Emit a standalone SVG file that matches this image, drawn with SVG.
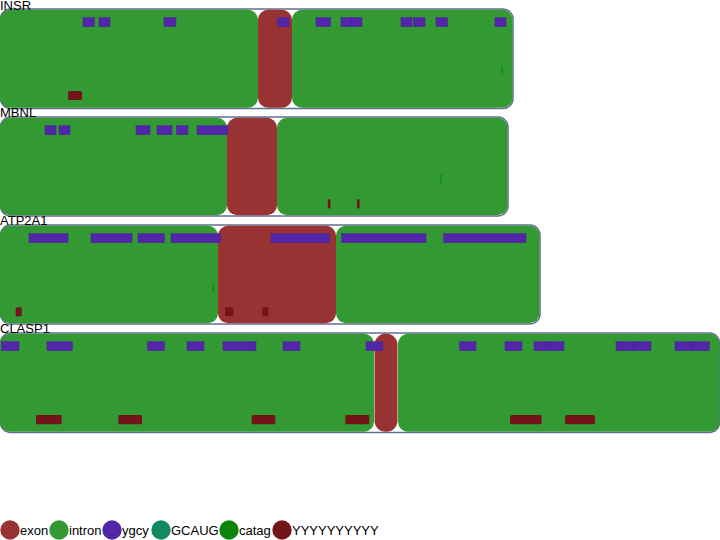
<svg xmlns="http://www.w3.org/2000/svg" width="720" height="540" viewBox="0 0 720 540">
<style>
text{font-family:"Liberation Sans",Arial,sans-serif;font-size:13px;fill:#000}
.outer{fill:#fff;stroke:#5f7090;stroke-width:1.5}
.intron{fill:#339933}
.exon{fill:#993333}
.ygcy{fill:#5226a8;stroke:#4a2299;stroke-width:0.5}
.yyy{fill:#731419}
.catag{fill:#0b840b}
</style>
<g id="INSR">
<rect class="outer" x="0.5" y="9" width="512.5" height="99.5" rx="10"/>
<rect class="intron" x="0" y="9.8" width="258" height="98" rx="10"/>
<rect class="exon" x="258" y="9.8" width="34" height="98" rx="10"/>
<rect class="intron" x="292" y="9.8" width="220.5" height="98" rx="10"/>
<g transform="translate(0,17.7)">
<rect class="ygcy" x="83" y="0" width="11.5" height="9"/>
<rect class="ygcy" x="99" y="0" width="11" height="9"/>
<rect class="ygcy" x="164" y="0" width="12" height="9"/>
<rect class="ygcy" x="277.5" y="0" width="11.5" height="9"/>
<rect class="ygcy" x="316" y="0" width="14.5" height="9"/>
<rect class="ygcy" x="341" y="0" width="11" height="9"/>
<rect class="ygcy" x="351" y="0" width="11" height="9"/>
<rect class="ygcy" x="401" y="0" width="11" height="9"/>
<rect class="ygcy" x="413.5" y="0" width="11.5" height="9"/>
<rect class="ygcy" x="436" y="0" width="11.5" height="9"/>
<rect class="ygcy" x="495" y="0" width="11" height="9"/>
</g>
<rect class="yyy" x="68" y="91" width="14" height="9" rx="1.5"/>
<rect class="catag" x="501.8" y="66.7" width="1" height="8.6"/>
<text x="0" y="10">INSR</text>
</g>
<g id="MBNL">
<rect class="outer" x="0.5" y="117" width="507.5" height="99" rx="10"/>
<rect class="intron" x="0" y="117.8" width="227" height="97.5" rx="10"/>
<rect class="exon" x="227" y="117.8" width="50" height="97.5" rx="10"/>
<rect class="intron" x="277" y="117.8" width="230.5" height="97.5" rx="10"/>
<g transform="translate(0,125.7)">
<rect class="ygcy" x="45" y="0" width="11" height="9"/>
<rect class="ygcy" x="59" y="0" width="11" height="9"/>
<rect class="ygcy" x="136" y="0" width="14" height="9"/>
<rect class="ygcy" x="157" y="0" width="15" height="9"/>
<rect class="ygcy" x="176.5" y="0" width="11.5" height="9"/>
<rect class="ygcy" x="197" y="0" width="31" height="9"/>
</g>
<rect class="yyy" x="327.8" y="199.3" width="2.6" height="9"/>
<rect class="yyy" x="357" y="199.3" width="2.6" height="9"/>
<rect class="catag" x="440.5" y="174.3" width="1" height="10"/>
<text x="0" y="117">MBNL</text>
</g>
<g id="ATP2A1">
<rect class="outer" x="0.5" y="225" width="539.5" height="99" rx="10"/>
<rect class="intron" x="0" y="225.8" width="218" height="97.5" rx="10"/>
<rect class="exon" x="218" y="225.8" width="118" height="97.5" rx="10"/>
<rect class="intron" x="336" y="225.8" width="203.5" height="97.5" rx="10"/>
<g transform="translate(0,233.7)">
<rect class="ygcy" x="29" y="0" width="39" height="9"/>
<rect class="ygcy" x="91" y="0" width="41" height="9"/>
<rect class="ygcy" x="138" y="0" width="26.5" height="9"/>
<rect class="ygcy" x="171" y="0" width="49.5" height="9"/>
<rect class="ygcy" x="271" y="0" width="58.5" height="9"/>
<rect class="ygcy" x="341.5" y="0" width="84.5" height="9"/>
<rect class="ygcy" x="443.5" y="0" width="82.5" height="9"/>
</g>
<rect class="yyy" x="15.7" y="307.3" width="6" height="9"/>
<rect class="yyy" x="225" y="307.3" width="8.3" height="9" rx="1"/>
<rect class="yyy" x="262.3" y="307.3" width="6" height="9"/>
<rect class="catag" x="212.8" y="282.3" width="1" height="10"/>
<text x="0" y="225">ATP2A1</text>
</g>
<g id="CLASP1">
<rect class="outer" x="0.5" y="333" width="719" height="99.5" rx="10"/>
<rect class="intron" x="0" y="333.8" width="374" height="98" rx="10"/>
<rect class="exon" x="374.5" y="333.8" width="23" height="98" rx="11"/>
<rect class="intron" x="398" y="333.8" width="321.5" height="98" rx="10"/>
<g transform="translate(0,341.7)">
<rect class="ygcy" x="1.5" y="0" width="17.5" height="9"/>
<rect class="ygcy" x="47" y="0" width="25.5" height="9"/>
<rect class="ygcy" x="147.5" y="0" width="17" height="9"/>
<rect class="ygcy" x="187" y="0" width="17" height="9"/>
<rect class="ygcy" x="223" y="0" width="33" height="9"/>
<rect class="ygcy" x="283" y="0" width="17" height="9"/>
<rect class="ygcy" x="366" y="0" width="17" height="9"/>
<rect class="ygcy" x="459.5" y="0" width="16.5" height="9"/>
<rect class="ygcy" x="505" y="0" width="17" height="9"/>
<rect class="ygcy" x="534" y="0" width="15" height="9"/>
<rect class="ygcy" x="549" y="0" width="15" height="9"/>
<rect class="ygcy" x="616" y="0" width="17" height="9"/>
<rect class="ygcy" x="633" y="0" width="18" height="9"/>
<rect class="ygcy" x="675" y="0" width="17" height="9"/>
<rect class="ygcy" x="692" y="0" width="17.5" height="9"/>
</g>
<g transform="translate(0,415)">
<rect class="yyy" x="36" y="0" width="25.7" height="9.3" rx="1"/>
<rect class="yyy" x="118.3" y="0" width="23.7" height="9.3" rx="1"/>
<rect class="yyy" x="251.7" y="0" width="23.6" height="9.3" rx="1"/>
<rect class="yyy" x="345.3" y="0" width="24" height="9.3" rx="1"/>
<rect class="yyy" x="510" y="0" width="31.7" height="9.3" rx="2"/>
<rect class="yyy" x="565" y="0" width="30" height="9.3" rx="2"/>
</g>
<text x="0" y="333">CLASP1</text>
</g>
<g id="legend">
<circle cx="10" cy="530" r="9.7" fill="#993333"/>
<text x="20" y="535">exon</text>
<circle cx="59" cy="530" r="9.7" fill="#339933"/>
<text x="69" y="535">intron</text>
<circle cx="112" cy="530" r="9.7" fill="#5226a8"/>
<text x="122" y="535">ygcy</text>
<circle cx="161" cy="530" r="9.7" fill="#128a60"/>
<text x="171" y="535">GCAUG</text>
<circle cx="229" cy="530" r="9.7" fill="#0b840b"/>
<text x="239" y="535">catag</text>
<circle cx="282" cy="530" r="9.7" fill="#731419"/>
<text x="292" y="535">YYYYYYYYYY</text>
</g>
</svg>
